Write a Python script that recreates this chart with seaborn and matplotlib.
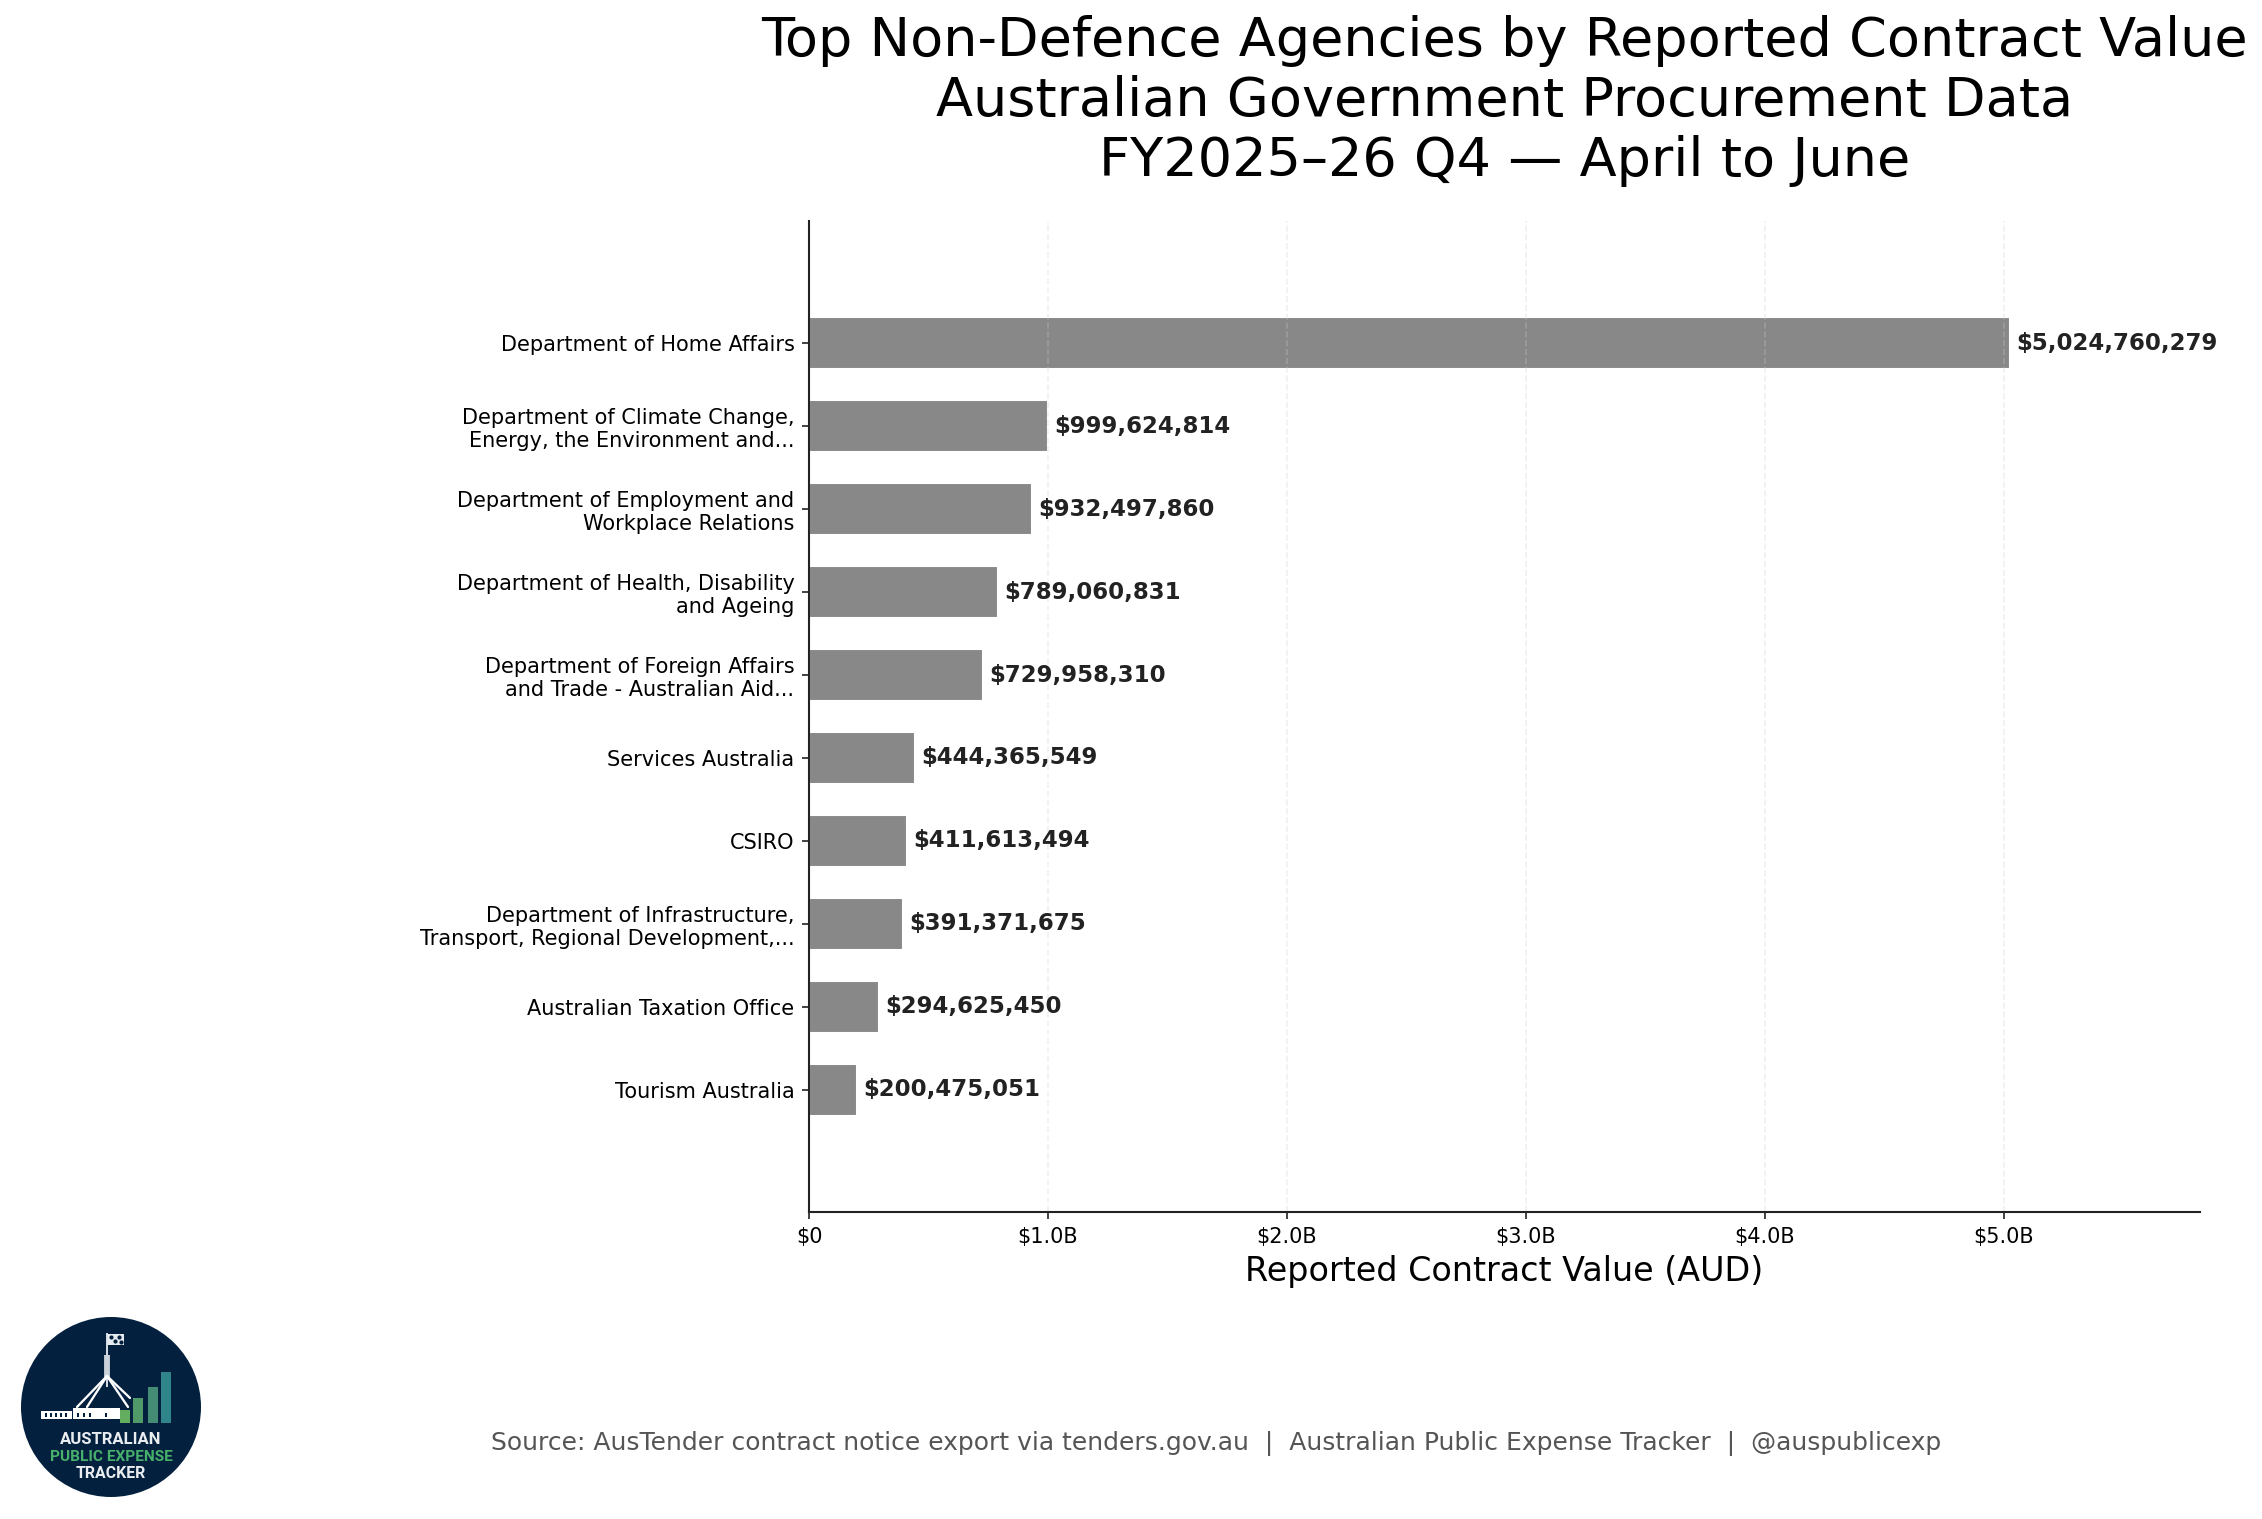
import matplotlib
matplotlib.use("Agg")
import matplotlib.pyplot as plt
from matplotlib.patches import Circle, Rectangle
from matplotlib.ticker import FuncFormatter
import pandas as pd
import seaborn as sns

# ---------------- DATA ----------------
agencies = [
    "Department of Home Affairs",
    "Department of Climate Change,\nEnergy, the Environment and...",
    "Department of Employment and\nWorkplace Relations",
    "Department of Health, Disability\nand Ageing",
    "Department of Foreign Affairs\nand Trade - Australian Aid...",
    "Services Australia",
    "CSIRO",
    "Department of Infrastructure,\nTransport, Regional Development,...",
    "Australian Taxation Office",
    "Tourism Australia",
]
values = [5024760279, 999624814, 932497860, 789060831, 729958310,
          444365549, 411613494, 391371675, 294625450, 200475051]
x_ticks = [0, 1e9, 2e9, 3e9, 4e9, 5e9]

title = ("Top Non-Defence Agencies by Reported Contract Value\n"
         "Australian Government Procurement Data\n"
         "FY2025\u201326 Q4 \u2014 April to June")
source = ("Source: AusTender contract notice export via tenders.gov.au  |  "
          "Australian Public Expense Tracker  |  @auspublicexp")

df = pd.DataFrame({"agency": agencies, "value": values})

W, H = 2262, 1519
sns.set_style("white", {"text.color": "black", "axes.labelcolor": "black",
                        "xtick.color": "black", "ytick.color": "black",
                        "axes.edgecolor": "#222222"})
plt.rcParams["font.family"] = "DejaVu Sans"
fig = plt.figure(figsize=(W / 150, H / 150), dpi=150)
ax = fig.add_axes([809 / W, 1 - 1212 / H, (2200 - 809) / W, (1212 - 221) / H])

# ---------------- BARS ----------------
sns.barplot(data=df, y="agency", x="value", color="#888888", saturation=1,
            width=0.63, ax=ax)
ax.set_ylim(10.47, -1.47)
ax.set_xlim(0, 5.82e9)

ax.bar_label(ax.containers[0], labels=[f"${v:,.0f}" for v in values], padding=3,
             fontsize=11, fontweight="bold", color="#222222")

# ---------------- AXES ----------------
ax.set_xticks(x_ticks)
ax.xaxis.set_major_formatter(FuncFormatter(
    lambda v, _: "$0" if v == 0 else f"${v / 1e9:.1f}B"))
ax.tick_params(axis="both", left=True, bottom=True, length=3.5, width=0.8,
               labelsize=10, color="#222222")
ax.set_xlabel("Reported Contract Value (AUD)", fontsize=16)
ax.set_ylabel("")
ax.set_title(title, fontsize=26, pad=21.5)
sns.despine(ax=ax)
for side in ["left", "bottom"]:
    ax.spines[side].set_linewidth(1.0)
# over the bars but under the spines
ax.set_axisbelow("line")
ax.grid(axis="x", color="#cccccc", linestyle="--", linewidth=0.8, alpha=0.3)

fig.text(1216 / W, 1 - 1443 / H, source, ha="center", va="center",
         fontsize=12, color="#555555")

# ---------------- LOGO ----------------
logo = fig.add_axes([0, 0, 240 / W, 229 / H])
logo.set_xlim(0, 240)
logo.set_ylim(229, 0)
logo.axis("off")
navy = "#04203f"
logo.add_patch(Circle((111, 117), 90, fc=navy, ec="none"))

# parliament house outline
logo.add_patch(Rectangle((41, 121), 31, 8, fc="white", ec="none"))
logo.add_patch(Rectangle((73, 118), 47, 11, fc="white", ec="none"))
for gap_x in [45, 50, 55, 60, 65, 77, 83, 89, 105]:
    logo.add_patch(Rectangle((gap_x, 123), 2, 4, fc=navy, ec="none"))

# flag mast and legs
logo.plot([107, 107], [43, 97], color="#dfe5ea", lw=0.9, solid_capstyle="butt")
logo.plot([107, 107], [65, 87], color="#c9d2da", lw=2.8, solid_capstyle="butt")
for x_end, y_end in [(77, 117), (87, 117), (128, 117), (130, 108)]:
    logo.plot([107, x_end], [86, y_end], color="white", lw=1.1)
logo.add_patch(Rectangle((107, 44), 17, 11, fc="#e6ebef", ec="none"))
logo.plot([111, 115, 119, 121], [47, 51, 47, 52], ls="none", marker=".", ms=2, color=navy)

# rising bars
for bx, by, bw, col in [(120, 120, 10, "#62ad5e"), (133, 108, 10, "#4f9a68"),
                        (148, 97, 10, "#458c74"), (161, 82, 10, "#2f8589")]:
    logo.add_patch(Rectangle((bx, by), bw, 133 - by, fc=col, ec="none"))

logo.text(111, 149, "AUSTRALIAN", ha="center", va="center", color="#e9edf0",
          fontsize=8.0, fontweight="bold", family="Roboto")
logo.text(111, 167, "PUBLIC EXPENSE", ha="center", va="center", color="#47b06a",
          fontsize=7.4, fontweight="bold", family="Roboto")
logo.text(111, 184, "TRACKER", ha="center", va="center", color="#e9edf0",
          fontsize=7.6, fontweight="bold", family="Roboto")

fig.savefig("out.png", dpi=150, facecolor="white")
